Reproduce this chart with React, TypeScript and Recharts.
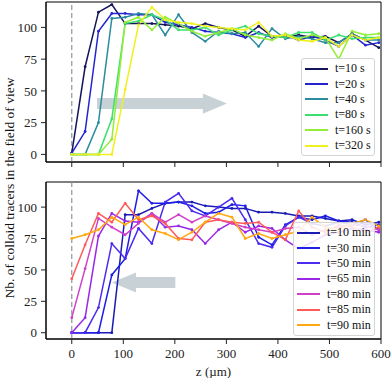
import React from 'react';
import { LineChart, Line, XAxis, YAxis, ReferenceLine, ReferenceArea, Legend } from 'recharts';

// z positions (µm) of the measurement bins
const zPos = [0, 25.9, 51.8, 77.7, 103.6, 129.5, 155.4, 181.3, 207.2, 233.1, 259, 284.9, 310.8, 336.7, 362.6, 388.5, 414.4, 440.3, 466.2, 492.1, 518, 543.9, 569.8, 595.7];
const xTicks = [0, 100, 200, 300, 400, 500, 600];
const yTicks = [0, 25, 50, 75, 100];

// top panel: early times (seconds)
const topLabels = ['t=10 s', 't=20 s', 't=40 s', 't=80 s', 't=160 s', 't=320 s'];
const topColors = ['#14145a', '#2424d0', '#2a8c9e', '#3ce070', '#92ee38', '#f0f01c'];
const s10 = [1, 69, 112, 118, 103, 103, 103, 102, 101, 99, 103, 100, 98, 93, 101, 93, 92, 94, 92, 93, 88, 95, 90, 84];
const s20 = [1, 18, 97, 111, 111, 110, 110, 104, 102, 100, 97, 96, 95, 92, 96, 92, 94, 90, 93, 90, 85, 94, 86, 88];
const s40 = [0, 0, 25, 107, 108, 111, 110, 94, 110, 96, 89, 97, 95, 96, 85, 99, 91, 93, 91, 88, 88, 95, 90, 90];
const s80 = [0, 0, 0, 28, 103, 105, 110, 106, 98, 98, 100, 94, 98, 101, 95, 93, 92, 96, 96, 90, 94, 91, 92, 92];
const s160 = [0, 0, 0, 12, 104, 108, 98, 108, 103, 97, 93, 96, 99, 94, 92, 90, 95, 91, 94, 92, 75, 97, 94, 95];
const s320 = [0, 0, 0, 0, 51, 102, 116, 106, 104, 103, 101, 100, 99, 98, 104, 93, 94, 90, 89, 92, 85, 94, 90, 92];
const topSeries = [s10, s20, s40, s80, s160, s320];

// bottom panel: late times (minutes)
const botLabels = ['t=10 min', 't=30 min', 't=50 min', 't=65 min', 't=80 min', 't=85 min', 't=90 min'];
const botColors = ['#1a1ab4', '#1e1ee6', '#4c2cf0', '#9a28e8', '#d040c8', '#ff5a58', '#ffa812'];
const m10 = [0, 0, 0, 0, 94, 94, 99, 103, 104, 104, 101, 100, 99, 99, 96, 96, 95, 93, 93, 91, 89, 90, 86, 88];
const m30 = [0, 0, 0, 46, 59, 113, 103, 103, 104, 101, 95, 96, 102, 101, 76, 70, 86, 92, 90, 93, 89, 88, 84, 86];
const m50 = [0, 0, 20, 71, 59, 83, 71, 104, 111, 97, 93, 100, 107, 90, 71, 68, 85, 92, 87, 85, 88, 86, 90, 82];
const m65 = [0, 12, 77, 95, 89, 88, 95, 84, 85, 82, 71, 82, 88, 80, 85, 83, 74, 67, 72, 78, 80, 83, 82, 80];
const m80 = [12, 51, 91, 84, 78, 87, 95, 88, 94, 88, 93, 90, 87, 84, 82, 80, 83, 84, 78, 82, 84, 86, 85, 82];
const m85 = [43, 70, 95, 88, 103, 90, 93, 87, 75, 74, 88, 90, 88, 87, 88, 80, 74, 97, 84, 80, 86, 84, 80, 84];
const m90 = [75, 78, 82, 92, 86, 92, 82, 79, 74, 80, 88, 95, 92, 75, 79, 75, 78, 81, 92, 84, 82, 87, 90, 85];
const botSeries = [m10, m30, m50, m65, m80, m85, m90];

const buildRows = (series: number[][]) =>
  zPos.map((z, i) => {
    const row: Record<string, number> = { z };
    series.forEach((s, k) => { row['s' + k] = s[i]; });
    return row;
  });

const topData = buildRows(topSeries);
const botData = buildRows(botSeries);

const FONT = '"Liberation Serif", "DejaVu Serif", serif';
const ARROW = '#c8d2d6';
const tickStyle = { fontSize: 13, fill: '#222', fontFamily: FONT };

const Arrow = (props: any) => {
  const { x, y, width, height, dir } = props;
  const cy = y + height / 2;
  const bh = height * 0.27;
  const hh = height / 2;
  const hl = 24;
  const xe = x + width;
  const pts = dir === 'right'
    ? [[x, cy - bh], [xe - hl, cy - bh], [xe - hl, cy - hh], [xe, cy], [xe - hl, cy + hh], [xe - hl, cy + bh], [x, cy + bh]]
    : [[xe, cy - bh], [x + hl, cy - bh], [x + hl, cy - hh], [x, cy], [x + hl, cy + hh], [x + hl, cy + bh], [xe, cy + bh]];
  return <polygon points={pts.map(p => p.join(',')).join(' ')} fill={ARROW} stroke="none" />;
};

const LegendBox = ({ labels, colors, lineW, gap }: { labels: string[]; colors: string[]; lineW: number; gap: number }) => (
  <div style={{
    border: '1px solid #d4d4d4', borderRadius: 3, background: 'rgba(255,255,255,0.85)',
    padding: '2px 0 2px 3px', fontFamily: FONT, fontSize: 12, color: '#111', boxSizing: 'border-box',
  }}>
    {labels.map((l, i) => (
      <div key={l} style={{ display: 'flex', alignItems: 'center', height: 15.4 }}>
        <div style={{ width: lineW, height: 0, borderTop: `2px solid ${colors[i]}`, marginRight: gap }} />
        <span style={{ whiteSpace: 'nowrap' }}>{l}</span>
      </div>
    ))}
  </div>
);

const Panel = ({ data, colors, labels, height, margin, domain, showX, legendPos, legendW, lineW, gap, arrow }: any) => (
  <LineChart width={392} height={height} data={data} margin={margin}>
    <ReferenceArea x1={-50} x2={600} y1={domain[0]} y2={domain[1]} fill="none" stroke="#000" strokeWidth={1} ifOverflow="visible" />
    <ReferenceArea
      x1={arrow.x1} x2={arrow.x2} y1={arrow.y1} y2={arrow.y2}
      shape={(p: any) => <Arrow {...p} dir={arrow.dir} />}
    />
    <ReferenceLine x={0} stroke="#8c9898" strokeDasharray="5 3" strokeWidth={1.2} />
    <XAxis
      dataKey="z" type="number" domain={[-50, 600]} ticks={xTicks} allowDataOverflow
      tickSize={5} tickMargin={5} height={showX ? 39 : 8}
      tick={tickStyle} tickFormatter={showX ? undefined : () => ''}
      axisLine={{ stroke: '#000' }} tickLine={{ stroke: '#222' }}
      label={showX ? { value: 'z (µm)', position: 'insideBottom', offset: 2, style: { fontSize: 13, fill: '#222', fontFamily: FONT } } : undefined}
    />
    <YAxis
      type="number" domain={domain} ticks={yTicks} allowDataOverflow width={40}
      tickSize={5} tickMargin={4} tick={tickStyle}
      axisLine={{ stroke: '#000' }} tickLine={{ stroke: '#222' }}
    />
    {colors.map((c: string, k: number) => (
      <Line
        key={k} type="linear" dataKey={'s' + k} name={labels[k]} stroke={c} strokeWidth={1.5}
        dot={{ r: 1.4, fill: c, stroke: c, strokeWidth: 0 }} isAnimationActive={false}
      />
    ))}
    <Legend
      layout="vertical" align="center" verticalAlign="middle"
      wrapperStyle={{ left: legendPos[0], top: legendPos[1], width: legendW }}
      content={() => <LegendBox labels={labels} colors={colors} lineW={lineW} gap={gap} />}
    />
  </LineChart>
);

export default function App() {
  return (
    <div style={{ position: 'absolute', left: 0, top: 0, width: 392, height: 378, background: '#fff', fontFamily: FONT }}>
      <div style={{ position: 'absolute', left: 0, top: 0 }}>
        <Panel
          data={topData} colors={topColors} labels={topLabels} height={170}
          margin={{ top: 2, right: 11, bottom: 0, left: 6 }} domain={[-6, 120]} showX={false}
          legendPos={[301, 58]} legendW={74} lineW={23} gap={7}
          arrow={{ x1: 49, x2: 301, y1: 32, y2: 48, dir: 'right' }}
        />
      </div>
      <div style={{ position: 'absolute', left: 0, top: 170 }}>
        <Panel
          data={botData} colors={botColors} labels={botLabels} height={208}
          margin={{ top: 12, right: 11, bottom: 0, left: 6 }} domain={[-5, 120]} showX
          legendPos={[293, 52]} legendW={82} lineW={23} gap={7}
          arrow={{ x1: 78, x2: 201, y1: 32, y2: 48, dir: 'left' }}
        />
      </div>
      <div style={{
        position: 'absolute', left: 10, top: 188, transform: 'translate(-50%, -50%) rotate(-90deg)',
        whiteSpace: 'nowrap', fontSize: 13.5, color: '#111', fontFamily: FONT,
      }}>
        Nb. of colloid tracers in the field of view
      </div>
    </div>
  );
}
